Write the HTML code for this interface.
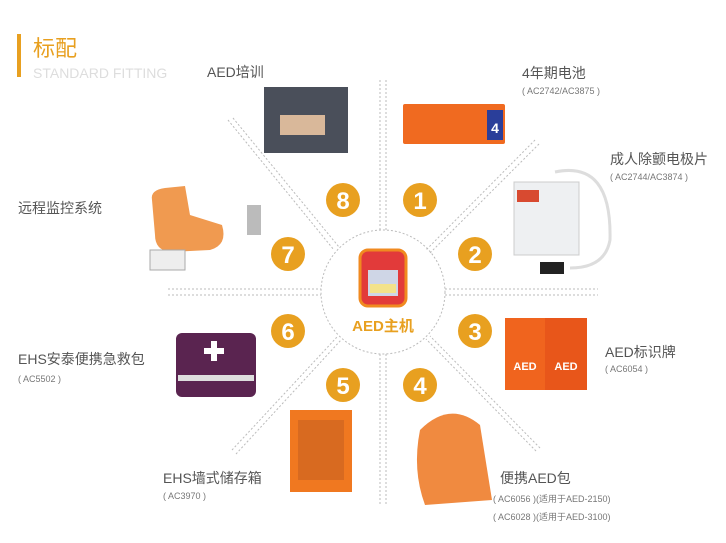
<!DOCTYPE html>
<html><head><meta charset="utf-8"><style>
body{margin:0;width:726px;height:543px;background:#fff;overflow:hidden;font-family:"Liberation Sans","Noto Sans CJK SC",sans-serif;}
svg{position:absolute;left:0;top:0}
</style></head><body>
<svg width="726" height="543" xmlns="http://www.w3.org/2000/svg" font-family="Liberation Sans, Noto Sans CJK SC, sans-serif">
<rect x="17" y="34" width="4" height="43" fill="#E8A020"/>
<text x="33" y="56" font-size="22" fill="#E8A020">标配</text>
<text x="33" y="78" font-size="14" fill="#ddd">STANDARD FITTING</text>
<g stroke="#bbb" stroke-width="1" stroke-dasharray="2,2" fill="none">
<circle cx="383" cy="292" r="62"/>
<line x1="380" y1="80" x2="380" y2="230"/><line x1="386" y1="80" x2="386" y2="230"/>
<line x1="380" y1="354" x2="380" y2="505"/><line x1="386" y1="354" x2="386" y2="505"/>
<line x1="168" y1="289" x2="321" y2="289"/><line x1="168" y1="295" x2="321" y2="295"/>
<line x1="445" y1="289" x2="598" y2="289"/><line x1="445" y1="295" x2="598" y2="295"/>
<line x1="228" y1="120" x2="334" y2="250"/><line x1="233" y1="118" x2="339" y2="247"/>
<line x1="535" y1="140" x2="426" y2="250"/><line x1="539" y1="144" x2="430" y2="253"/>
<line x1="232" y1="450" x2="337" y2="337"/><line x1="236" y1="454" x2="341" y2="340"/>
<line x1="540" y1="448" x2="430" y2="336"/><line x1="536" y1="451" x2="426" y2="339"/>
</g>
<g fill="#E8A020">
<circle cx="420" cy="200" r="17"/><circle cx="475" cy="254" r="17"/><circle cx="475" cy="331" r="17"/><circle cx="420" cy="385" r="17"/>
<circle cx="343" cy="385" r="17"/><circle cx="288" cy="331" r="17"/><circle cx="288" cy="254" r="17"/><circle cx="343" cy="200" r="17"/>
</g>
<g fill="#fff" font-size="24" font-weight="bold" text-anchor="middle">
<text x="420" y="209">1</text><text x="475" y="263">2</text><text x="475" y="340">3</text><text x="420" y="394">4</text>
<text x="343" y="394">5</text><text x="288" y="340">6</text><text x="288" y="263">7</text><text x="343" y="209">8</text>
</g>
<rect x="360" y="250" width="46" height="56" rx="8" fill="#e23a3a" stroke="#f08a20" stroke-width="3"/>
<rect x="368" y="270" width="30" height="26" fill="#cfd6e6"/>
<rect x="370" y="284" width="26" height="9" fill="#f3e28a"/>
<text x="383" y="331" font-size="15" fill="#E8A020" text-anchor="middle" font-weight="bold">AED主机</text>
<rect x="264" y="87" width="84" height="66" fill="#4a4f5a"/><rect x="280" y="115" width="45" height="20" fill="#d9b89a"/>
<rect x="403" y="104" width="102" height="40" rx="2" fill="#f06a20"/><rect x="487" y="110" width="16" height="30" fill="#2a3e9a"/>
<text x="495" y="133" font-size="14" fill="#fff" text-anchor="middle" font-weight="bold">4</text>
<rect x="514" y="182" width="65" height="73" fill="#eef0f2" stroke="#ccc"/><rect x="517" y="190" width="22" height="12" fill="#d84a30"/>
<path d="M555 172 Q612 160 610 240 Q605 268 570 268" stroke="#ddd" stroke-width="3" fill="none"/>
<rect x="540" y="262" width="24" height="12" fill="#222"/>
<rect x="505" y="318" width="40" height="72" fill="#f0641e"/><rect x="545" y="318" width="42" height="72" fill="#e8561a"/>
<text x="525" y="370" font-size="11" fill="#fff" text-anchor="middle" font-weight="bold">AED</text><text x="566" y="370" font-size="11" fill="#fff" text-anchor="middle" font-weight="bold">AED</text>
<path d="M420 430 Q450 400 480 425 L492 500 L425 505 Q412 470 420 430 Z" fill="#f08a40"/>
<rect x="290" y="410" width="62" height="82" fill="#f07820"/><rect x="298" y="420" width="46" height="60" fill="#d86a20"/>
<rect x="176" y="333" width="80" height="64" rx="6" fill="#5a2450"/><rect x="178" y="375" width="76" height="6" fill="#ddd"/>
<rect x="204" y="348" width="20" height="6" fill="#fff"/><rect x="211" y="341" width="6" height="20" fill="#fff"/>
<path d="M152 200 Q150 190 165 188 L185 186 L190 215 L222 225 Q228 245 210 250 L170 252 Q155 250 155 235 Z" fill="#f09a50"/><rect x="247" y="205" width="14" height="30" fill="#bbb"/>
<rect x="150" y="250" width="35" height="20" fill="#eee" stroke="#aaa"/>
<g fill="#555" font-size="14">
<text x="207" y="77">AED培训</text>
<text x="522" y="78">4年期电池</text>
<text x="610" y="164">成人除颤电极片</text>
<text x="18" y="213">远程监控系统</text>
<text x="605" y="357">AED标识牌</text>
<text x="18" y="364">EHS安泰便携急救包</text>
<text x="163" y="483">EHS墙式储存箱</text>
<text x="500" y="483">便携AED包</text>
</g>
<g fill="#777" font-size="9">
<text x="522" y="94">( AC2742/AC3875 )</text>
<text x="610" y="180">( AC2744/AC3874 )</text>
<text x="605" y="372">( AC6054 )</text>
<text x="18" y="382">( AC5502 )</text>
<text x="163" y="499">( AC3970 )</text>
<text x="493" y="502">( AC6056 )(适用于AED-2150)</text>
<text x="493" y="520">( AC6028 )(适用于AED-3100)</text>
</g>
</svg>
</body></html>
